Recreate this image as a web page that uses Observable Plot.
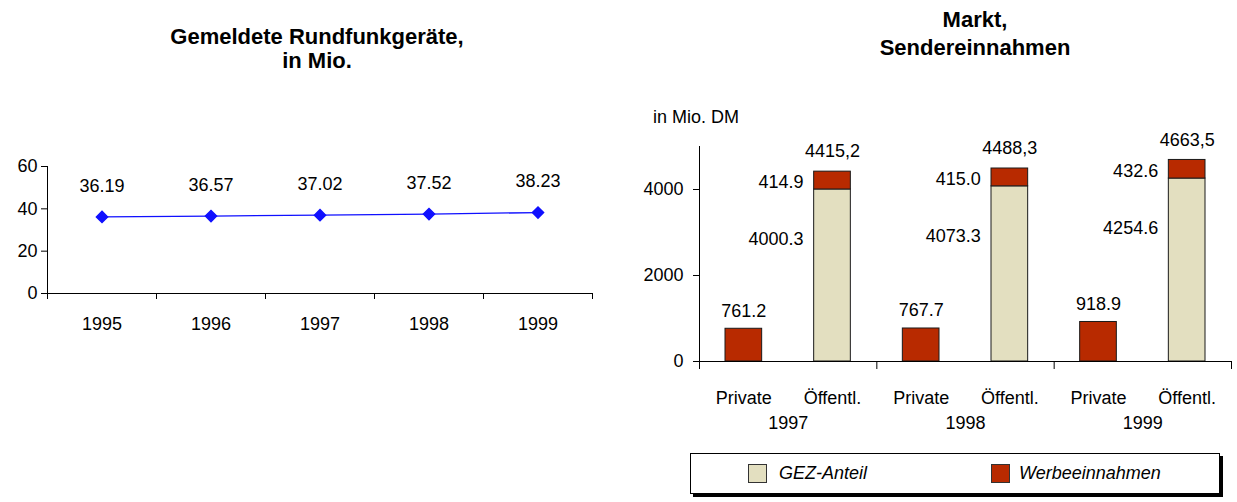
<!DOCTYPE html>
<html>
<head>
<meta charset="utf-8">
<script src="https://cdn.jsdelivr.net/npm/d3@7"></script>
<script src="https://cdn.jsdelivr.net/npm/@observablehq/plot@0.6"></script>
<style>
  html, body { margin: 0; padding: 0; background: #fff; }
  body { width: 1237px; height: 502px; position: relative; overflow: hidden;
         font-family: "Liberation Sans", Arial, sans-serif; color: #000; }
  .abs { position: absolute; }
  .title { font-weight: bold; font-size: 22px; text-align: center; }
  .legend { left: 690px; top: 453px; width: 528px; height: 39px; border: 1px solid #000;
            box-shadow: 3px 3px 0 #000; background: #fff; }
  .sw { position: absolute; top: 10px; width: 17px; height: 17px; border: 1px solid #333; }
  .lt { position: absolute; top: 8px; font-size: 18px; font-style: italic; line-height: 22px; }
</style>
</head>
<body>
<div id="t1" class="abs title" style="left:117px; top:25px; width:400px; line-height:24px;"></div>
<div id="t2" class="abs title" style="left:775px; top:6px; width:400px; line-height:28px;"></div>
<div id="unit" class="abs" style="left:653px; top:107px; font-size:18px; line-height:20px;"></div>
<div id="left" class="abs" style="left:0px; top:140px;"></div>
<div id="right" class="abs" style="left:630px; top:100px;"></div>
<div id="legend" class="abs legend"></div>
<script>
// ---------- data ----------
const titleLeft = ["Gemeldete Rundfunkgeräte,", "in Mio."];
const titleRight = ["Markt,", "Sendereinnahmen"];
const unitLabel = "in Mio. DM";

const years = [1995, 1996, 1997, 1998, 1999];
const geraete = [36.19, 36.57, 37.02, 37.52, 38.23];
const geraeteTicks = [0, 20, 40, 60];

const jahre = [1997, 1998, 1999];
const sender = ["Private", "Öffentl."];
const privatWerbung = [761.2, 767.7, 918.9];
const oeffGEZ = [4000.3, 4073.3, 4254.6];
const oeffWerbung = [414.9, 415.0, 432.6];
const oeffGesamt = [4415.2, 4488.3, 4663.5];
const marktTicks = [0, 2000, 4000];
const marktMax = 5000;
const serien = ["GEZ-Anteil", "Werbeeinnahmen"];
const farben = ["#e3dfc0", "#b82a00"];

// ---------- titles ----------
document.getElementById("t1").innerHTML = titleLeft.join("<br>");
document.getElementById("t2").innerHTML = titleRight.join("<br>");
document.getElementById("unit").textContent = unitLabel;

const font = {fontFamily: "'Liberation Sans', Arial, sans-serif", fontSize: "18px", color: "#000", background: "transparent", overflow: "visible"};

// ---------- left chart ----------
const lineData = years.map((y, i) => ({year: y, value: geraete[i]}));
const bounds = years.map(y => y - 0.5).concat([years[years.length - 1] + 0.5]);
const blue = "#1010ff";

const left = Plot.plot({
  width: 610, height: 200,
  marginTop: 26, marginBottom: 47, marginLeft: 47, marginRight: 18,
  style: font,
  x: {type: "linear", domain: [bounds[0], bounds[bounds.length - 1]]},
  y: {domain: [geraeteTicks[0], geraeteTicks[geraeteTicks.length - 1]]},
  marks: [
    Plot.ruleY([0], {stroke: "#000"}),
    Plot.ruleX([bounds[0]], {y1: 0, y2: geraeteTicks[geraeteTicks.length - 1], stroke: "#000"}),
    Plot.axisY({ticks: geraeteTicks, tickSize: 6, tickPadding: 4, label: null, tickFormat: d => String(d)}),
    Plot.axisX({ticks: bounds, tickSize: 6, tickFormat: () => "", label: null}),
    Plot.axisX({ticks: years, tickSize: 0, tickPadding: 24, tickFormat: d => String(d), label: null}),
    Plot.line(lineData, {x: "year", y: "value", stroke: blue, strokeWidth: 1.3}),
    Plot.dot(lineData, {x: "year", y: "value", symbol: "diamond2", r: 5, fill: blue, stroke: blue}),
    Plot.text(lineData, {x: "year", y: "value", text: d => d.value.toFixed(2), dy: -31, fontSize: 18})
  ]
});
document.getElementById("left").appendChild(left);

// ---------- right chart ----------
const segs = [];
const privRows = [];
const oeffRows = [];
jahre.forEach((j, g) => {
  const ip = 2 * g, io = 2 * g + 1;
  segs.push({i: ip, y1: 0, y2: privatWerbung[g], serie: serien[1]});
  segs.push({i: io, y1: 0, y2: oeffGEZ[g], serie: serien[0]});
  segs.push({i: io, y1: oeffGEZ[g], y2: oeffGEZ[g] + oeffWerbung[g], serie: serien[1]});
  privRows.push({i: ip, value: privatWerbung[g]});
  oeffRows.push({i: io, gez: oeffGEZ[g], werb: oeffWerbung[g], total: oeffGesamt[g]});
});
const nBars = jahre.length * sender.length;
const groupBounds = d3.range(0, nBars + 1, sender.length);
const barCenters = d3.range(nBars).map(i => i + 0.5);
const groupCenters = jahre.map((_, g) => g * sender.length + sender.length / 2);
const comma = v => v.toFixed(1).replace(".", ",");

const right = Plot.plot({
  width: 607, height: 340,
  marginTop: 46, marginBottom: 79, marginLeft: 69, marginRight: 6,
  style: font,
  x: {type: "linear", domain: [0, nBars]},
  y: {domain: [0, marktMax]},
  color: {domain: serien, range: farben},
  marks: [
    Plot.rect(segs, {x1: d => d.i, x2: d => d.i + 1, y1: "y1", y2: "y2", fill: "serie",
                     stroke: "#1a1a1a", strokeWidth: 1, insetLeft: 26, insetRight: 26}),
    Plot.ruleY([0], {stroke: "#000"}),
    Plot.ruleX([0], {y1: 0, y2: marktMax, stroke: "#000"}),
    Plot.axisY({ticks: marktTicks, tickSize: 6, tickPadding: 10, label: null, tickFormat: d => String(d)}),
    Plot.axisX({ticks: groupBounds, tickSize: 8, tickFormat: () => "", label: null}),
    Plot.axisX({ticks: barCenters, tickSize: 0, tickPadding: 30, label: null,
                tickFormat: t => sender[Math.floor(t) % sender.length]}),
    Plot.axisX({ticks: groupCenters, tickSize: 0, tickPadding: 55, label: null,
                tickFormat: t => String(jahre[Math.round((t - 1) / sender.length)])}),
    Plot.text(privRows, {x: d => d.i + 0.5, y: "value", text: d => d.value.toFixed(1), dy: -18, fontSize: 18}),
    Plot.text(oeffRows, {x: d => d.i + 0.5, y: d => d.gez + d.werb, text: d => comma(d.total), dy: -20, fontSize: 18}),
    Plot.text(oeffRows, {x: d => d.i + 0.5, y: d => d.gez + d.werb / 2, text: d => d.werb.toFixed(1),
                         textAnchor: "end", dx: -29, dy: 2, fontSize: 18}),
    Plot.text(oeffRows, {x: d => d.i + 0.5, y: "gez", text: d => d.gez.toFixed(1),
                         textAnchor: "end", dx: -29, dy: 50, fontSize: 18})
  ]
});
document.getElementById("right").appendChild(right);

// ---------- legend ----------
const lg = document.getElementById("legend");
const legendPos = [[57, 88], [300, 328]];
serien.forEach((s, k) => {
  const sw = document.createElement("div");
  sw.className = "sw";
  sw.style.left = legendPos[k][0] + "px";
  sw.style.background = farben[k];
  lg.appendChild(sw);
  const t = document.createElement("div");
  t.className = "lt";
  t.style.left = legendPos[k][1] + "px";
  t.textContent = s;
  lg.appendChild(t);
});
</script>
</body>
</html>
